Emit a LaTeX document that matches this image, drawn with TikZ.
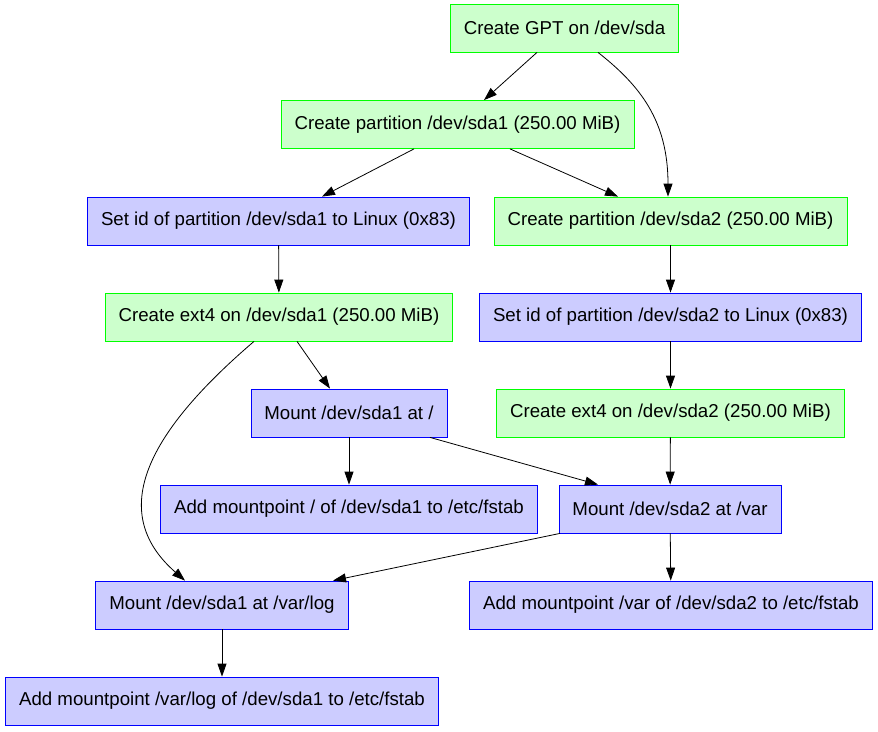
\documentclass[tikz,border=0pt]{standalone}
\usepackage{fontspec}
\setmainfont{Liberation Sans}
\usetikzlibrary{arrows.meta,calc}

\definecolor{mkfill}{HTML}{CCFFCC}
\definecolor{mkline}{HTML}{00FF00}
\definecolor{cfgfill}{HTML}{CCCCFF}
\definecolor{cfgline}{HTML}{0000FF}

\begin{document}
\begin{tikzpicture}[x=1pt, y=-1pt,
  mk/.style={draw=mkline, fill=mkfill, line width=0.8pt, minimum height=48pt, inner xsep=13.5pt, font=\fontsize{18.67}{22}\selectfont},
  cfg/.style={draw=cfgline, fill=cfgfill, line width=0.8pt, minimum height=48pt, inner xsep=13.5pt, font=\fontsize{18.67}{22}\selectfont},
  flow/.style={-{Triangle[length=13pt,width=9pt]}, line width=0.8pt}]
\useasboundingbox[fill=white] (0,0) rectangle (878,731);

\node[mk]  (gpt)  at (564.5,28)  {Create GPT on /dev/sda};
\node[mk]  (p1)   at (457.5,124.5) {Create partition /dev/sda1 (250.00 MiB)};
\node[cfg] (id1)  at (278.5,221) {Set id of partition /dev/sda1 to Linux (0x83)};
\node[mk]  (p2)   at (670.5,221) {Create partition /dev/sda2 (250.00 MiB)};
\node[mk]  (fs1)  at (279,317)   {Create ext4 on /dev/sda1 (250.00 MiB)};
\node[cfg] (id2)  at (670.5,317) {Set id of partition /dev/sda2 to Linux (0x83)};
\node[cfg] (mnt1) at (349,413)   {Mount /dev/sda1 at /};
\node[mk]  (fs2)  at (670.5,413) {Create ext4 on /dev/sda2 (250.00 MiB)};
\node[cfg] (tab1) at (349,509)   {Add mountpoint / of /dev/sda1 to /etc/fstab};
\node[cfg] (mnt2) at (670,509)   {Mount /dev/sda2 at /var};
\node[cfg] (mnt3) at (222,605)   {Mount /dev/sda1 at /var/log};
\node[cfg] (tab2) at (671,605)   {Add mountpoint /var of /dev/sda2 to /etc/fstab};
\node[cfg] (tab3) at (222,701)   {Add mountpoint /var/log of /dev/sda1 to /etc/fstab};

% edges
\draw[flow] ([xshift=-27.5pt]gpt.south) -- ([xshift=26.5pt]p1.north);
\draw[flow] ([xshift=33.5pt]gpt.south) .. controls +(42,33) and +(0,-76) .. ([xshift=-2.5pt]p2.north);
\draw[flow] ([xshift=-43.5pt]p1.south) -- ([xshift=43.5pt]id1.north);
\draw[flow] ([xshift=52.5pt]p1.south) -- ([xshift=-52.5pt]p2.north);
\draw[flow] (id1) -- (fs1);
\draw[flow] (p2) -- (id2);
\draw[flow] ([xshift=18pt]fs1.south) -- ([xshift=-19pt]mnt1.north);
\draw[flow] ([xshift=-25pt]fs1.south) .. controls +(-104,89) and +(-80,-70) .. ([xshift=-37pt]mnt3.north);
\draw[flow] (id2) -- (fs2);
\draw[flow] (mnt1) -- (tab1);
\draw[flow] ([xshift=81pt]mnt1.south) -- ([xshift=-72pt]mnt2.north);
\draw[flow] (fs2) -- (mnt2);
\draw[flow] ([xshift=-110pt]mnt2.south) -- ([xshift=111pt]mnt3.north);
\draw[flow] (mnt2) -- (tab2);
\draw[flow] (mnt3) -- (tab3);
\end{tikzpicture}
\end{document}
